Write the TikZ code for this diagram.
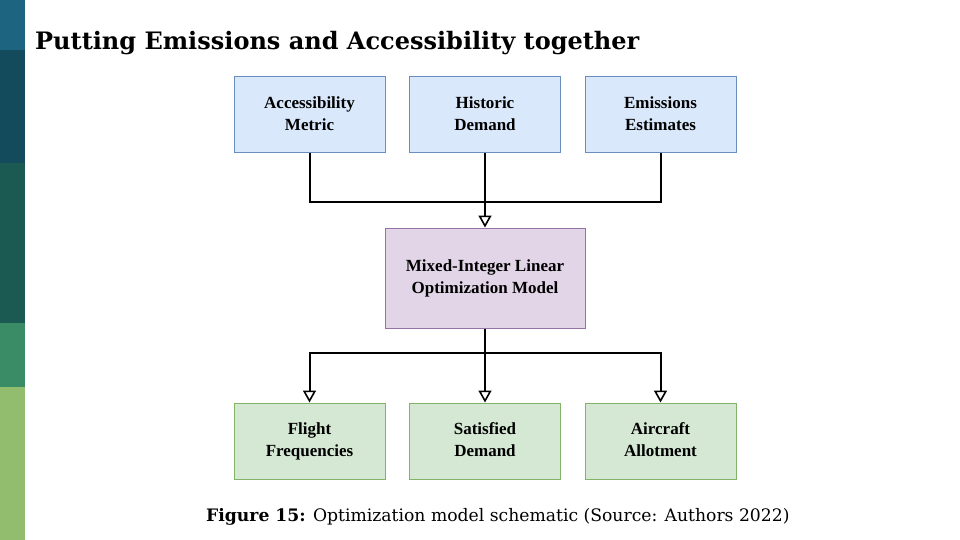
\documentclass[tikz,border=0pt]{standalone}
\usepackage{fontspec}
\setmainfont{Liberation Serif}
\newfontfamily\headfont{DejaVu Serif}
\usetikzlibrary{arrows.meta}
\definecolor{bandA}{HTML}{1C6480}
\definecolor{bandB}{HTML}{134A5C}
\definecolor{bandC}{HTML}{1A5A52}
\definecolor{bandD}{HTML}{3A8C66}
\definecolor{bandE}{HTML}{93BD6E}
\definecolor{inputfill}{HTML}{DAE8FC}
\definecolor{inputline}{HTML}{6C8EBF}
\definecolor{modelfill}{HTML}{E1D5E7}
\definecolor{modelline}{HTML}{9673A6}
\definecolor{outputfill}{HTML}{D5E8D4}
\definecolor{outputline}{HTML}{82B366}
\tikzset{
  box/.style={line width=1pt, minimum width=151pt, minimum height=76pt, align=center,
    font=\bfseries\fontsize{17}{22}\selectfont},
  inputbox/.style={box, draw=inputline, fill=inputfill},
  outputbox/.style={box, draw=outputline, fill=outputfill},
  modelbox/.style={box, draw=modelline, fill=modelfill, minimum width=200pt, minimum height=100pt},
  link/.style={line width=2pt, black},
  flow/.style={link, -{Triangle[open, length=12pt, width=13pt, line width=1.6pt]}}
}
\begin{document}
\begin{tikzpicture}[x=1pt, y=-1pt]
  \useasboundingbox (0,0) rectangle (960,540);
  % side bands
  \fill[bandA] (0,0) rectangle (25,50);
  \fill[bandB] (0,50) rectangle (25,163);
  \fill[bandC] (0,163) rectangle (25,323);
  \fill[bandD] (0,323) rectangle (25,387);
  \fill[bandE] (0,387) rectangle (25,540);
  \node[anchor=base west, inner sep=0pt, font=\headfont\bfseries\fontsize{24}{28}\selectfont] (title)
    at (35,50) {Putting Emissions and Accessibility together};
  \draw
    (309.5,115) node[inputbox] (acc){Accessibility\strut\\Metric\strut}
    (485,115) node[inputbox] (hist){Historic\strut\\Demand\strut}
    (660.5,115) node[inputbox] (emis){Emissions\strut\\Estimates\strut}
    (485,278) node[modelbox] (milp){Mixed-Integer Linear\strut\\Optimization Model\strut}
    (309.5,441) node[outputbox] (freq){Flight\strut\\Frequencies\strut}
    (485,441) node[outputbox] (sat){Satisfied\strut\\Demand\strut}
    (660.5,441) node[outputbox] (allot){Aircraft\strut\\Allotment\strut};
  \coordinate (join) at (485,202);
  \coordinate (split) at (485,353);
  \begin{scope}[link]
    \draw (acc.south) |- (join) -| (emis.south);
    \draw[flow] (hist.south) to (milp.north);
    \draw (milp.south) to (split);
    \draw[flow] (split) -| (freq.north);
    \draw[flow] (split) to (sat.north);
    \draw[flow] (split) -| (allot.north);
  \end{scope}
  \node[anchor=base west, inner sep=0pt, font=\headfont\fontsize{17.2}{21}\selectfont] (caption)
    at (206,521) {\textbf{Figure 15:} Optimization model schematic (Source: Authors 2022)};
\end{tikzpicture}
\end{document}
